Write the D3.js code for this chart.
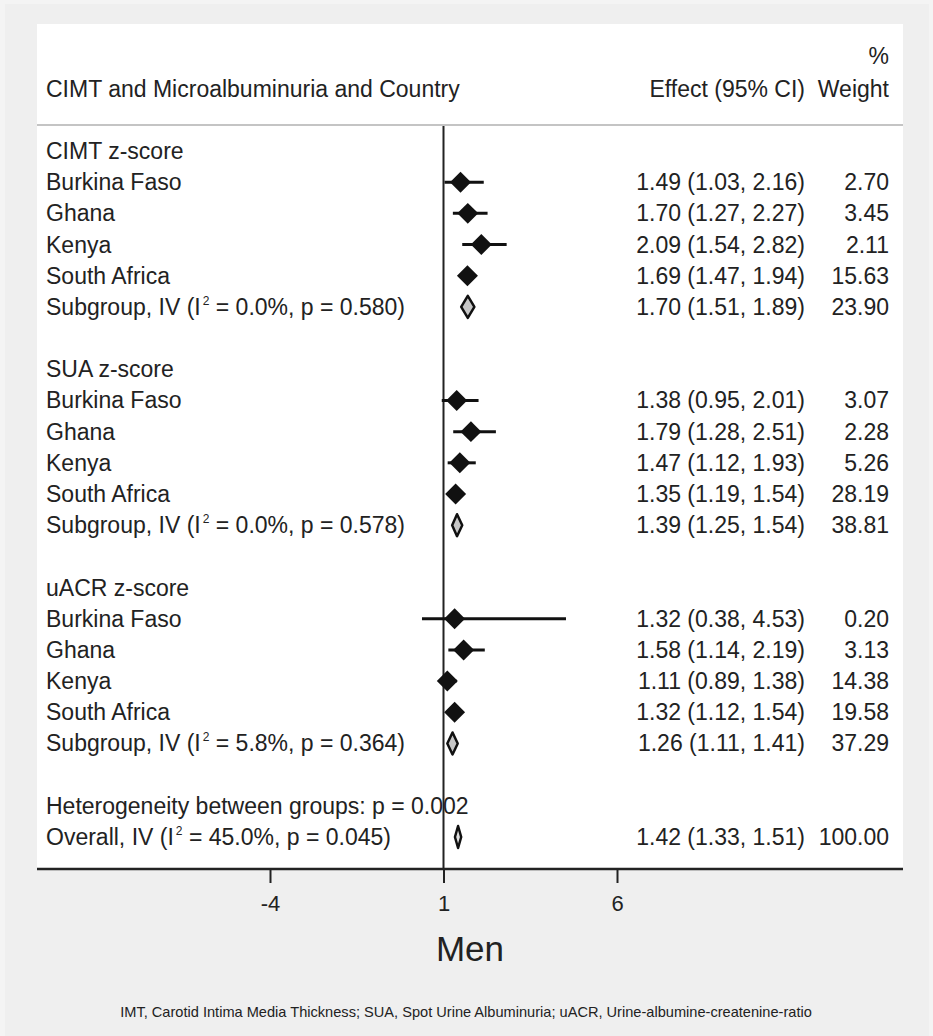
<!DOCTYPE html>
<html>
<head>
<meta charset="utf-8">
<script src="https://cdn.jsdelivr.net/npm/d3@7"></script>
<style>
  body { margin: 0; background: #f0f0f0; }
  text { font-family: "Liberation Sans", Arial, sans-serif; fill: #222; }
</style>
</head>
<body>
<svg id="chart" width="933" height="1036"></svg>
<script>
// data
const groups = ["CIMT z-score", "SUA z-score", "uACR z-score"];
const countries = ["Burkina Faso", "Ghana", "Kenya", "South Africa"];
const est = [[1.49, 1.70, 2.09, 1.69], [1.38, 1.79, 1.47, 1.35], [1.32, 1.58, 1.11, 1.32]];
const lower = [[1.03, 1.27, 1.54, 1.47], [0.95, 1.28, 1.12, 1.19], [0.38, 1.14, 0.89, 1.12]];
const upper = [[2.16, 2.27, 2.82, 1.94], [2.01, 2.51, 1.93, 1.54], [4.53, 2.19, 1.38, 1.54]];
const weights = [[2.70, 3.45, 2.11, 15.63], [3.07, 2.28, 5.26, 28.19], [0.20, 3.13, 14.38, 19.58]];
const subEst = [1.70, 1.39, 1.26];
const subLower = [1.51, 1.25, 1.11];
const subUpper = [1.89, 1.54, 1.41];
const subWeight = [23.90, 38.81, 37.29];
const subI2 = ["0.0", "0.0", "5.8"];
const subP = ["0.580", "0.578", "0.364"];
const overallEst = 1.42, overallLower = 1.33, overallUpper = 1.51, overallWeight = 100.00;
const overallI2 = "45.0", overallP = "0.045", hetP = "0.002";
const xTicks = [-4, 1, 6];

const svg = d3.select("#chart");
const panelL = 37, panelR = 903, panelT = 24, axisY = 869;
const fs = 23;

//background panels
svg.append("rect").attr("x", 0).attr("y", 0).attr("width", 933).attr("height", 1036).attr("fill", "#f4f4f4");
svg.append("rect").attr("x", 5).attr("y", 4).attr("width", 924).attr("height", 1032).attr("fill", "#efefef");
svg.append("rect").attr("x", panelL).attr("y", panelT).attr("width", panelR - panelL).attr("height", axisY - panelT).attr("fill", "#fff");

//build rows
let rows = [];
groups.forEach(function(g, gi) {
  rows.push({type: "head", label: g});
  countries.forEach(function(c, ci) {
    rows.push({type: "study", label: c, e: est[gi][ci], l: lower[gi][ci], u: upper[gi][ci], w: weights[gi][ci]});
  });
  rows.push({type: "sub", i2: subI2[gi], p: subP[gi], e: subEst[gi], l: subLower[gi], u: subUpper[gi], w: subWeight[gi]});
  rows.push({type: "blank"});
});
rows.push({type: "het"});
rows.push({type: "overall", i2: overallI2, p: overallP, e: overallEst, l: overallLower, u: overallUpper, w: overallWeight});

const x = d3.scaleLinear().domain([-4, 6]).range([270, 617]);
const y = d3.scaleLinear().domain([0, rows.length - 1]).range([159, 845]); //text baselines
const mid = function(i) { return y(i) - 8; };

//header
svg.append("text").text("CIMT and Microalbuminuria and Country").attr("x", 46).attr("y", 97).attr("font-size", fs);
svg.append("text").text("Effect (95% CI)").attr("x", 805).attr("y", 97).attr("text-anchor", "end").attr("font-size", fs);
svg.append("text").text("Weight").attr("x", 889).attr("y", 97).attr("text-anchor", "end").attr("font-size", fs);
svg.append("text").text("%").attr("x", 889).attr("y", 64).attr("text-anchor", "end").attr("font-size", fs);
svg.append("line").attr("x1", panelL).attr("x2", panelR).attr("y1", 125).attr("y2", 125)
  .attr("stroke", "#c4c4c4").attr("stroke-width", 2);

//null line
svg.append("line").attr("x1", x(1)).attr("x2", x(1)).attr("y1", 126).attr("y2", axisY)
  .attr("stroke", "#222").attr("stroke-width", 2);

//labels
rows.forEach(function(r, i) {
  if (r.type == "head" || r.type == "study") {
    svg.append("text").text(r.label).attr("x", 46).attr("y", y(i)).attr("font-size", fs);
  }
  if (r.type == "het") {
    svg.append("text").text("Heterogeneity between groups: p = " + hetP).attr("x", 46).attr("y", y(i)).attr("font-size", fs);
  }
  if (r.type == "sub" || r.type == "overall") {
    let t = svg.append("text").attr("x", 46).attr("y", y(i)).attr("font-size", fs);
    t.append("tspan").text((r.type == "sub" ? "Subgroup" : "Overall") + ", IV (I");
    t.append("tspan").text("2").attr("font-size", 12).attr("dy", -10).attr("dx", 2);
    t.append("tspan").text(" = " + r.i2 + "%, p = " + r.p + ")").attr("dy", 10);
  }
  if (r.e !== undefined) {
    svg.append("text").text(r.e.toFixed(2) + " (" + r.l.toFixed(2) + ", " + r.u.toFixed(2) + ")")
      .attr("x", 805).attr("y", y(i)).attr("text-anchor", "end").attr("font-size", fs);
    svg.append("text").text(r.w.toFixed(2))
      .attr("x", 889).attr("y", y(i)).attr("text-anchor", "end").attr("font-size", fs);
  }
});

//study CIs and markers
const study = rows.map(function(r, i) { return Object.assign({i: i}, r); }).filter(function(r) { return r.type == "study"; });
svg.selectAll("line.ci").data(study).enter().append("line").attr("class", "ci")
  .attr("x1", function(d) { return x(d.l); }).attr("x2", function(d) { return x(d.u); })
  .attr("y1", function(d) { return mid(d.i); }).attr("y2", function(d) { return mid(d.i); })
  .attr("stroke", "#111").attr("stroke-width", 3);
svg.selectAll("path.mark").data(study).enter().append("path").attr("class", "mark")
  .attr("d", d3.symbol(d3.symbolSquare, 220))
  .attr("transform", function(d) { return "translate(" + x(d.e) + "," + mid(d.i) + ") rotate(45)"; })
  .attr("fill", "#111");

//pooled diamonds
const pooled = rows.map(function(r, i) { return Object.assign({i: i}, r); }).filter(function(r) { return r.type == "sub" || r.type == "overall"; });
svg.selectAll("path.pool").data(pooled).enter().append("path").attr("class", "pool")
  .attr("d", function(d) {
    let c = mid(d.i), h = 11;
    return "M" + x(d.l) + "," + c + "L" + x(d.e) + "," + (c - h) + "L" + x(d.u) + "," + c + "L" + x(d.e) + "," + (c + h) + "Z";
  })
  .attr("fill", function(d) { return d.type == "sub" ? "#c8c8c8" : "#e0e0e0"; })
  .attr("stroke", "#111").attr("stroke-width", 2.5).attr("stroke-linejoin", "round");

//x axis
svg.append("line").attr("x1", panelL).attr("x2", panelR).attr("y1", axisY).attr("y2", axisY)
  .attr("stroke", "#222").attr("stroke-width", 2.5);
let axis = svg.append("g").attr("transform", "translate(0," + axisY + ")")
  .call(d3.axisBottom(x).tickValues(xTicks).tickSize(14).tickPadding(12).tickFormat(function(d) { return String(d); }));
axis.select(".domain").remove();
axis.selectAll(".tick line").attr("stroke", "#222").attr("stroke-width", 2);
axis.selectAll(".tick text").attr("font-size", 22).attr("font-family", null).attr("fill", "#222");

svg.append("text").text("Men").attr("x", 470).attr("y", 961).attr("text-anchor", "middle").attr("font-size", 35);
svg.append("text").text("IMT, Carotid Intima Media Thickness; SUA, Spot Urine Albuminuria; uACR, Urine-albumine-createnine-ratio")
  .attr("x", 466).attr("y", 1017).attr("text-anchor", "middle").attr("font-size", 14.6);
</script>
</body>
</html>
